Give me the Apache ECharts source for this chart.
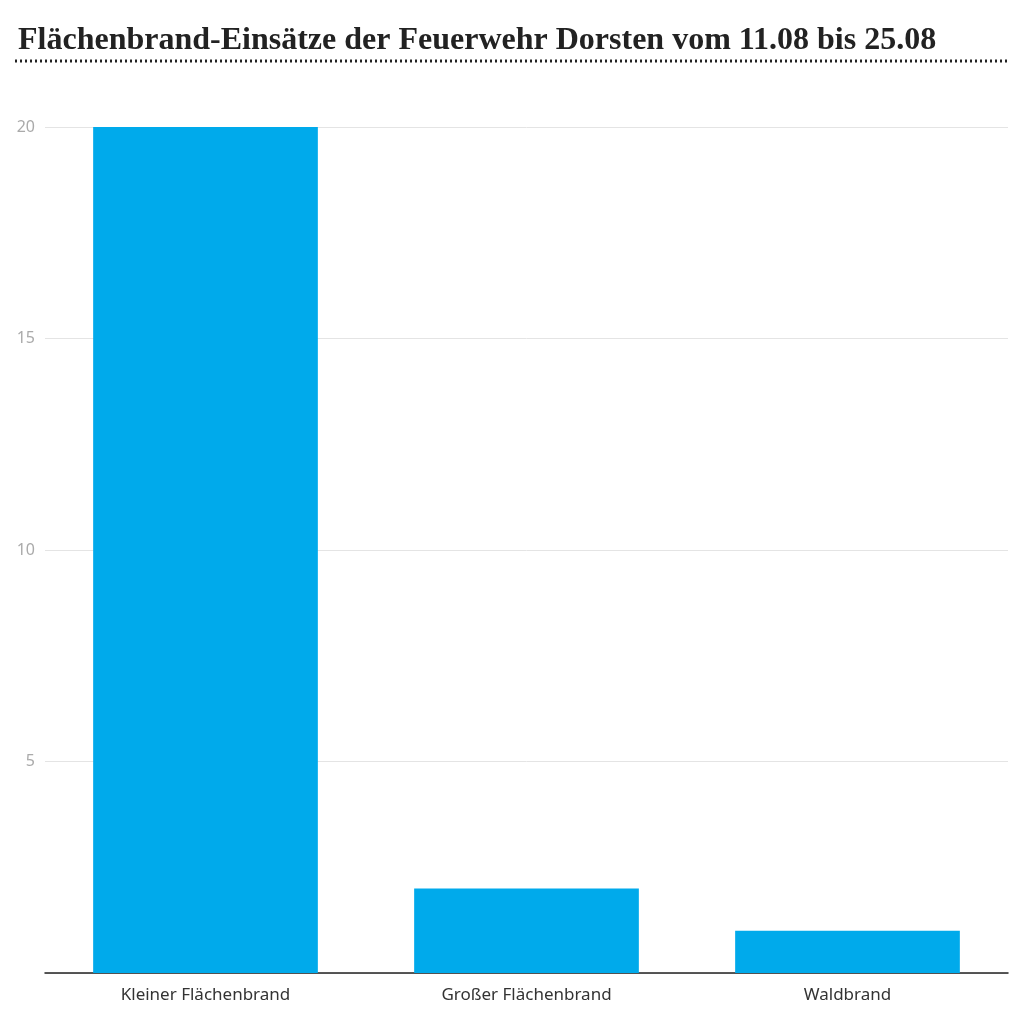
<!DOCTYPE html>
<html><head><meta charset="utf-8">
<script src="https://cdn.jsdelivr.net/npm/echarts@6/dist/echarts.min.js"></script>
<style>html,body{margin:0;padding:0;background:#fff}#c{width:1024px;height:1024px}</style>
</head><body><div id="c"></div>
<script>
const categories = ["Kleiner Flächenbrand", "Großer Flächenbrand", "Waldbrand"];
const values = [20, 2, 1];
const chart = echarts.init(document.getElementById('c'));
chart.setOption({
  backgroundColor: '#fff',
  title: {
    text: 'Flächenbrand-Einsätze der Feuerwehr Dorsten vom 11.08 bis 25.08',
    left: 13, top: 20,
    textStyle: { fontFamily: 'Liberation Sans Narrow', fontWeight: 'bold', fontSize: 32, color: '#222' }
  },
  graphic: [{
    type: 'line', shape: { x1: 15, y1: 61, x2: 1008, y2: 61 },
    style: { stroke: '#222', lineWidth: 3, lineDash: [2, 3] }
  }],
  grid: { left: 45, right: 16, top: 127, bottom: 51 },
  xAxis: {
    type: 'category', data: categories,
    axisLine: { lineStyle: { color: '#222', width: 1.5 } },
    axisTick: { show: false },
    axisLabel: { color: '#333', fontSize: 17, fontFamily: 'Noto Sans', margin: 14 }
  },
  yAxis: {
    type: 'value', min: 0, max: 20, interval: 5,
    axisLabel: { color: '#aaa', fontSize: 16, fontFamily: 'Noto Sans', margin: 10,
      formatter: v => v === 0 ? '' : v },
    splitLine: { lineStyle: { color: '#e4e4e4' } }
  },
  series: [{ type: 'bar', data: values, barWidth: '70%', itemStyle: { color: '#00AAEB' } }]
});
</script></body></html>
